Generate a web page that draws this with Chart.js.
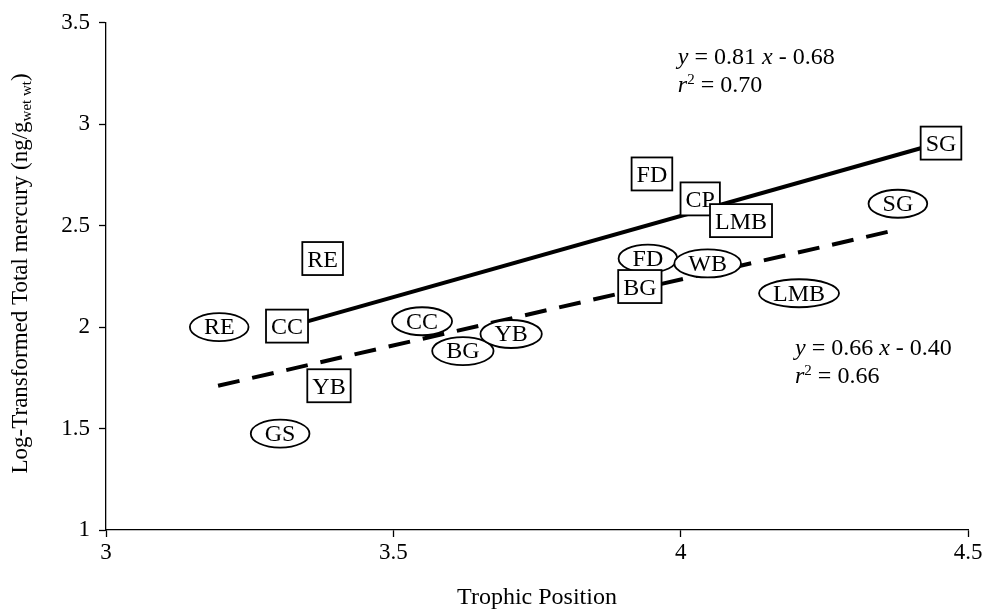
<!DOCTYPE html>
<html>
<head>
<meta charset="utf-8">
<script src="https://cdn.jsdelivr.net/npm/chart.js@4.4.0/dist/chart.umd.min.js"></script>
<style>
  html, body { margin: 0; padding: 0; background: #fff; }
  #wrap { width: 988px; height: 612px; }
</style>
</head>
<body>
<div id="wrap"><canvas id="grafico" width="988" height="612"></canvas></div>
<script>
const FONTE = "'Liberation Serif', 'Times New Roman', serif";

// Peixes marcados com quadrado (linha cheia)
const squareLabels = ["RE", "CC", "YB", "FD", "CP", "LMB", "BG", "SG"];
const squareX = [3.377, 3.315, 3.388, 3.950, 4.034, 4.105, 3.929, 4.453];
const squareY = [2.338, 2.005, 1.711, 2.755, 2.632, 2.525, 2.200, 2.907];

// Peixes marcados com elipse (linha tracejada)
const ovalLabels = ["RE", "CC", "BG", "YB", "GS", "FD", "WB", "LMB", "SG"];
const ovalX = [3.197, 3.550, 3.621, 3.705, 3.303, 3.943, 4.047, 4.206, 4.378];
const ovalY = [2.000, 2.029, 1.882, 1.966, 1.475, 2.338, 2.314, 2.167, 2.608];

// Retas de regressão (extremos)
const solidLineX = [3.315, 4.453];
const solidLineY = [2.000, 2.910];
const dashedLineX = [3.195, 4.369];
const dashedLineY = [1.711, 2.475];

// Eixos
const xTicks = [3, 3.5, 4, 4.5];
const yTicks = [1, 1.5, 2, 2.5, 3, 3.5];

// Equações
const eqSlope = ["0.81", "0.66"];
const eqIntercept = ["0.68", "0.40"];
const eqR2 = ["0.70", "0.66"];

function pontos(xs, ys) {
  return xs.map((x, i) => ({ x: x, y: ys[i] }));
}

// Desenha quadrados e elipses com o texto dentro
const marcadores = {
  id: "marcadores",
  afterDatasetsDraw(chart) {
    const ctx = chart.ctx;
    ctx.save();
    ctx.font = `24px ${FONTE}`;
    ctx.textAlign = "center";
    ctx.textBaseline = "middle";
    ctx.lineWidth = 1.8;
    ctx.strokeStyle = "#000";

    chart.getDatasetMeta(2).data.forEach((pt, i) => {
      const texto = ovalLabels[i];
      const w = ctx.measureText(texto).width;
      ctx.beginPath();
      ctx.ellipse(pt.x, pt.y, w / 2 + 14, 14, 0, 0, Math.PI * 2);
      ctx.fillStyle = "#fff";
      ctx.fill();
      ctx.stroke();
      ctx.fillStyle = "#000";
      ctx.fillText(texto, pt.x, pt.y + 1);
    });

    chart.getDatasetMeta(3).data.forEach((pt, i) => {
      const texto = squareLabels[i];
      const w = ctx.measureText(texto).width + 10;
      const h = 33;
      ctx.fillStyle = "#fff";
      ctx.fillRect(pt.x - w / 2, pt.y - h / 2, w, h);
      ctx.strokeRect(pt.x - w / 2, pt.y - h / 2, w, h);
      ctx.fillStyle = "#000";
      ctx.fillText(texto, pt.x, pt.y + 2);
    });
    ctx.restore();
  },
};

// Título do eixo y com subscrito + equações
const textos = {
  id: "textos",
  afterDraw(chart) {
    const ctx = chart.ctx;
    const area = chart.chartArea;
    ctx.save();
    ctx.fillStyle = "#000";
    ctx.textBaseline = "middle";

    // título y
    const principal = "Log-Transformed Total mercury (ng/g";
    const sub = "wet wt";
    const fim = ")";
    const fonteN = `23px ${FONTE}`;
    const fonteS = `15px ${FONTE}`;
    ctx.font = fonteN;
    const w1 = ctx.measureText(principal).width;
    const w3 = ctx.measureText(fim).width;
    ctx.font = fonteS;
    const w2 = ctx.measureText(sub).width;
    const total = w1 + w2 + w3;
    ctx.translate(21, (area.top + area.bottom) / 2 - 3);
    ctx.rotate(-Math.PI / 2);
    ctx.textAlign = "left";
    let x0 = -total / 2;
    ctx.font = fonteN;
    ctx.fillText(principal, x0, 0);
    ctx.font = fonteS;
    ctx.fillText(sub, x0 + w1, 6);
    ctx.font = fonteN;
    ctx.fillText(fim, x0 + w1 + w2, 0);
    ctx.setTransform(1, 0, 0, 1, 0, 0);

    // equações
    const sx = chart.scales.x;
    const sy = chart.scales.y;
    const locais = [
      [3.995, 3.328],
      [4.199, 1.892],
    ];
    locais.forEach((loc, i) => {
      let px = sx.getPixelForValue(loc[0]);
      const py = sy.getPixelForValue(loc[1]);
      const partes = [
        ["italic", "y"],
        ["", " = " + eqSlope[i] + " "],
        ["italic", "x"],
        ["", " - " + eqIntercept[i]],
      ];
      let cx = px;
      partes.forEach((p) => {
        ctx.font = `${p[0]} 24px ${FONTE}`;
        ctx.fillText(p[1], cx, py);
        cx += ctx.measureText(p[1]).width;
      });
      cx = px;
      const py2 = py + 28;
      ctx.font = `italic 24px ${FONTE}`;
      ctx.fillText("r", cx, py2);
      cx += ctx.measureText("r").width;
      ctx.font = `15px ${FONTE}`;
      ctx.fillText("2", cx, py2 - 6);
      cx += ctx.measureText("2").width;
      ctx.font = `24px ${FONTE}`;
      ctx.fillText(" = " + eqR2[i], cx, py2);
    });
    ctx.restore();
  },
};

const contexto = document.getElementById("grafico");

new Chart(contexto, {
  type: "scatter",
  data: {
    datasets: [
      {
        data: pontos(solidLineX, solidLineY),
        showLine: true,
        borderColor: "#000",
        borderWidth: 4,
        pointRadius: 0,
      },
      {
        data: pontos(dashedLineX, dashedLineY),
        showLine: true,
        borderColor: "#000",
        borderWidth: 4,
        borderDash: [22, 13],
        pointRadius: 0,
      },
      {
        data: pontos(ovalX, ovalY),
        pointRadius: 0,
      },
      {
        data: pontos(squareX, squareY),
        pointRadius: 0,
      },
    ],
  },
  options: {
    responsive: false,
    animation: false,
    devicePixelRatio: 1,
    layout: {
      padding: { top: 20, right: 20, bottom: 0, left: 0 },
    },
    plugins: {
      legend: { display: false },
      tooltip: { enabled: false },
    },
    scales: {
      x: {
        type: "linear",
        min: 3,
        max: 4.5,
        afterBuildTicks: (scale) => {
          scale.ticks = xTicks.map((v) => ({ value: v }));
        },
        afterFit: (scale) => {
          scale.height = 82;
        },
        ticks: {
          color: "#000",
          font: { family: FONTE, size: 23 },
          padding: 2,
          callback: (v) => String(v),
        },
        grid: {
          drawOnChartArea: false,
          drawTicks: true,
          tickLength: 7,
          tickColor: "#000",
          tickWidth: 1.3,
        },
        border: { display: true, color: "#000", width: 1.3 },
        title: {
          display: true,
          text: "Trophic Position",
          color: "#000",
          font: { family: FONTE, size: 24 },
          padding: { top: 12, bottom: 0 },
        },
      },
      y: {
        type: "linear",
        min: 1,
        max: 3.5,
        afterBuildTicks: (scale) => {
          scale.ticks = yTicks.map((v) => ({ value: v }));
        },
        afterFit: (scale) => {
          scale.width = 106;
        },
        ticks: {
          color: "#000",
          font: { family: FONTE, size: 23 },
          padding: 9,
          callback: (v) => String(v),
        },
        grid: {
          drawOnChartArea: false,
          drawTicks: true,
          tickLength: 7,
          tickColor: "#000",
          tickWidth: 1.3,
        },
        border: { display: true, color: "#000", width: 1.3 },
      },
    },
  },
  plugins: [marcadores, textos],
});
</script>
</body>
</html>
